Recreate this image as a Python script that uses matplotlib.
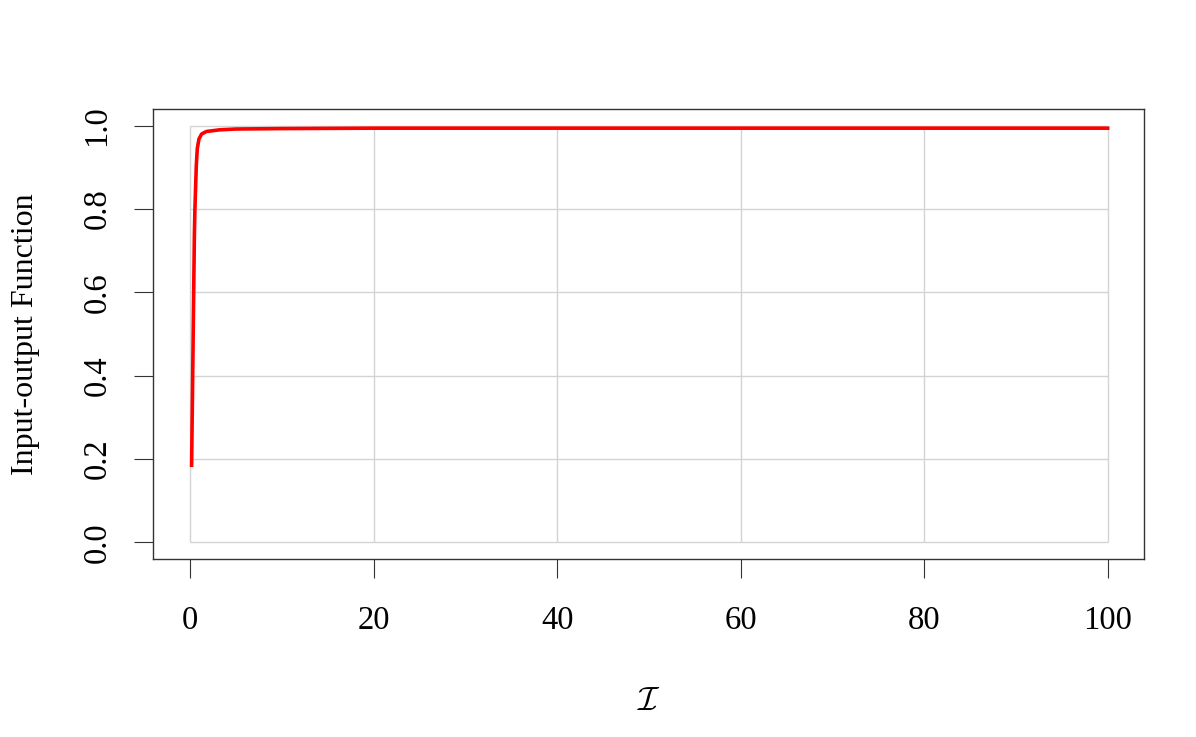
import matplotlib
matplotlib.use("Agg")
import matplotlib.pyplot as plt

plt.rcParams['font.family'] = ['Liberation Serif', 'DejaVu Serif']
plt.rcParams['mathtext.fontset'] = 'cm'

# values
intensity = [0.16, 0.31, 0.46, 0.52, 0.67, 0.78, 0.96, 1.25, 1.77, 3.2, 5,
             10, 20, 40, 60, 80, 100]
response = [0.185, 0.46, 0.736, 0.80, 0.904, 0.945, 0.968, 0.980, 0.986,
            0.990, 0.992, 0.993, 0.994, 0.994, 0.994, 0.994, 0.994]
x_ticks = [0, 20, 40, 60, 80, 100]
y_ticks = [0.0, 0.2, 0.4, 0.6, 0.8, 1.0]

fig = plt.figure(figsize=(11.96, 7.37), dpi=100)
ax = fig.add_axes([0.1283, 0.2415, 0.8285, 0.6106])

# grid only over the data range, like R's grid()
ax.hlines(y_ticks, 0, 100, color='#d3d3d3', lw=1.0, zorder=1)
ax.vlines(x_ticks, 0, 1, color='#d3d3d3', lw=1.0, zorder=1)

ax.plot(intensity, response, color='red', lw=2.6, zorder=3)

ax.set_xlim(-4, 104)
ax.set_ylim(-0.04, 1.04)
ax.set_xticks(x_ticks)
ax.set_yticks(y_ticks)
ax.set_xticklabels([str(t) for t in x_ticks])
ax.set_yticklabels(['%.1f' % t for t in y_ticks], rotation=90, va='center')

for s in ax.spines.values():
    s.set_color('#333333')
    s.set_linewidth(1.0)

ax.tick_params(axis='both', direction='out', length=13.5, width=0.8,
               color='#333333', labelsize=23.5)
ax.tick_params(axis='x', pad=20)
ax.tick_params(axis='y', pad=16)

ax.set_xlabel(r'$\mathcal{I}$', fontsize=24, labelpad=36)
ax.set_ylabel('Input-output Function', fontsize=23, labelpad=30)

fig.savefig('out.png', dpi=100)
